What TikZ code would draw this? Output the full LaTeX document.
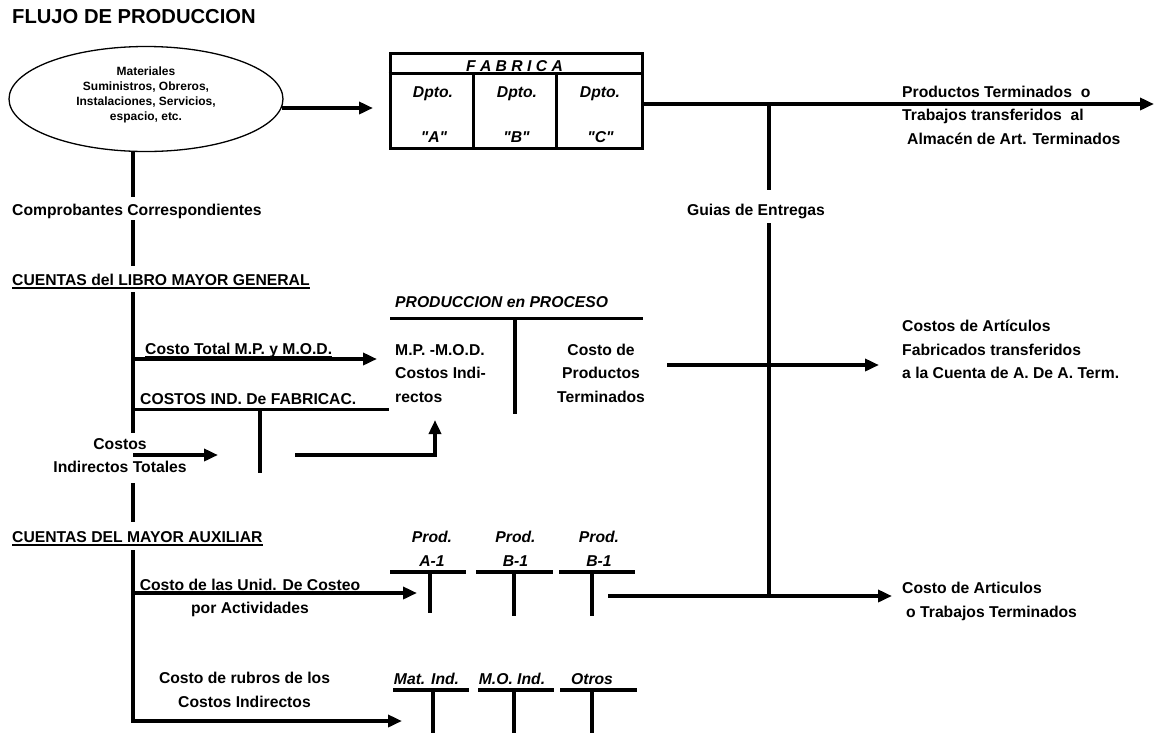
\documentclass[tikz,border=0pt]{standalone}
\usepackage{fontspec}
\setmainfont{Liberation Sans}[Ligatures=TeXOff]
\usetikzlibrary{shapes.geometric,arrows.meta,calc}
% fixed first-line height so that north anchors of text blocks are predictable
\newcommand\capstrut{\rule{0pt}{12pt}}
\begin{document}
\begin{tikzpicture}[x=1pt,y=-1pt,
  txt/.style={inner sep=0pt, font=\fontsize{15.7}{23.5}\selectfont\bfseries},
  itx/.style={inner sep=0pt, font=\fontsize{15.7}{23.5}\selectfont\bfseries\itshape},
  heavy/.style={line width=3.5pt},
  arr/.style={heavy, -{Triangle[length=14pt,width=12pt]}},
  uline/.style={line width=1.4pt},
]
\useasboundingbox (0,0) rectangle (1154,732);

% ---------- title ----------
\node[inner sep=0pt, font=\fontsize{20.2}{24}\selectfont\bfseries, anchor=base west]
  (titulo) at (12,23.5) {FLUJO DE PRODUCCION};

% ---------- resources ----------
\node[ellipse, draw, line width=1.3pt, minimum width=274pt, minimum height=105pt,
      inner sep=0pt, align=center, font=\fontsize{12}{15}\selectfont\bfseries]
  (recursos) at (146,99)
  {Materiales\\Suministros, Obreros,\\Instalaciones, Servicios,\\espacio, etc.\rule[-10pt]{0pt}{10pt}};

% ---------- factory ----------
\node[draw, line width=3pt, minimum width=252pt, minimum height=95pt, inner sep=0pt]
  (fabrica) at (516,100.5) {};
\draw[line width=3pt] ($(fabrica.north west)+(0,22)$) -- ($(fabrica.north east)+(0,22)$);
\draw[line width=3pt] ($(fabrica.north west)+(85,22)$) -- ($(fabrica.south west)+(85,0)$);
\draw[line width=3pt] ($(fabrica.north west)+(168,22)$) -- ($(fabrica.south west)+(168,0)$);
\node[itx, anchor=base] (fabtit) at (514.5,71) {F A B R I C A};
\node[itx, anchor=base] (dptoA) at (433,97) {Dpto.};
\node[itx, anchor=base] (dptoB) at (517,97) {Dpto.};
\node[itx, anchor=base] (dptoC) at (600,97) {Dpto.};
\node[itx, anchor=base] (letA) at (434,142) {"A"};
\node[itx, anchor=base] (letB) at (516.5,142) {"B"};
\node[itx, anchor=base] (letC) at (600.5,142) {"C"};

\coordinate (fabin) at (373,108);
\draw[arr] ($(recursos.east)+(-2,9)$) -- (fabin);

% ---------- finished products ----------
\coordinate (salida) at (1154,104);
\draw[arr] ($(fabrica.east)+(0,3.5)$) -- (salida);
\node[txt, anchor=north west, align=left] (almacen) at (902,85)
  {\capstrut Productos Terminados\ \ o\\Trabajos transferidos\ \ al\\\hspace*{5pt}Almacén de Art. Terminados};

% delivery notes line
\node[txt, anchor=base] (guias) at (756,215) {Guias de Entregas};
\coordinate (g0) at (769,104);
\coordinate (g1) at (769,190);
\coordinate (g2) at (769,223);
\coordinate (g3) at (769,596);
\draw[heavy] (g0) -- (g1);
\draw[heavy] (g2) -- (g3);

% ---------- left spine with its labels ----------
\node[txt, anchor=base west] (comprob) at (12,215) {Comprobantes Correspondientes};
\node[txt, anchor=base west] (libro) at (12,285.5) {CUENTAS del LIBRO MAYOR GENERAL};
\draw[uline] ($(libro.base west)+(0,2.5)$) -- ($(libro.base east)+(0,2.5)$);
\node[txt, anchor=base west] (auxiliar) at (12,542.5) {CUENTAS DEL MAYOR AUXILIAR};
\draw[uline] ($(auxiliar.base west)+(0,2.5)$) -- ($(auxiliar.base east)+(0,2.5)$);
\node[txt, anchor=north, align=center] (cind) at (120,437) {\capstrut Costos\\Indirectos Totales};

\coordinate (s0) at (133,151.5);
\coordinate (s1) at (133,197);
\coordinate (s2) at (133,220);
\coordinate (s3) at (133,266);
\coordinate (s4) at (133,292);
\coordinate (s5) at (133,433);
\coordinate (s6) at (133,483);
\coordinate (s7) at (133,522);
\coordinate (s8) at (133,550);
\coordinate (s9) at (133,721);
\draw[heavy] (s0) -- (s1) (s2) -- (s3) (s4) -- (s5) (s6) -- (s7);

% ---------- general ledger ----------
\node[txt, anchor=base west] (mpmod) at (145,354.5) {Costo Total M.P. y M.O.D.};
\draw[uline] ($(mpmod.base west)+(0,2)$) -- ($(mpmod.base east)+(0,2)$);
\coordinate (b1) at (133,359);
\coordinate (mpin) at (377,359);
\draw[arr] (b1) -- (mpin);

\node[txt, anchor=base west] (cif) at (140,404.5) {COSTOS IND. De FABRICAC.};
\coordinate (b2) at (133,409.5);
\coordinate (cifend) at (389,409.5);
\coordinate (cifstem) at (260,409.5);
\draw[heavy] (b2) -- (cifend);
\draw[heavy] (cifstem) -- ++(0,63);

\coordinate (b3) at (133,455);
\coordinate (cifin) at (218,455);
\draw[arr] (b3) -- (cifin);
\coordinate (cifout) at (295,455);
\coordinate (ppin) at (435,420);
\draw[arr] (cifout) -| (ppin);

% work in process account
\node[itx, anchor=base west] (pptit) at (395,307.5) {PRODUCCION en PROCESO};
\coordinate (ppl) at (390,318.5);
\coordinate (ppr) at (643,318.5);
\coordinate (ppm) at (515,318.5);
\draw[heavy] (ppl) -- (ppr);
\draw[heavy] (ppm) -- ++(0,95);
\node[txt, anchor=north west, align=left] (ppdebe) at (395,343)
  {\capstrut M.P. -M.O.D.\\Costos Indi-\\rectos};
\node[txt, anchor=north, align=center] (pphaber) at (601,343)
  {\capstrut Costo de\\Productos\\Terminados};

\coordinate (ppout) at (667,365);
\coordinate (ppto) at (879,365);
\draw[arr] (ppout) -- (ppto);
\node[txt, anchor=north west, align=left] (artfab) at (902,319.7)
  {\capstrut Costos de Artículos\\Fabricados transferidos\\a la Cuenta de A. De A. Term.};

% ---------- subsidiary ledger ----------
\node[txt, anchor=north, align=center] (unid) at (250,578)
  {\capstrut Costo de las Unid. De Costeo\\por Actividades};
\coordinate (b4) at (133,593);
\coordinate (unidin) at (417,593);
\draw[arr] (b4) -- (unidin);

\node[itx, anchor=north, align=center] (pa1) at (432,530.7) {\capstrut Prod.\\A-1};
\node[itx, anchor=north, align=center] (pb1) at (515.5,530.7) {\capstrut Prod.\\B-1};
\node[itx, anchor=north, align=center] (pb2) at (599,530.7) {\capstrut Prod.\\B-1};
\draw[heavy] (390,572) -- (466,572) (430,572) -- (430,613);
\draw[heavy] (476,572) -- (553,572) (514,572) -- (514,616);
\draw[heavy] (559,572) -- (635,572) (592,572) -- (592,616);

\coordinate (prodout) at (608,596);
\coordinate (prodto) at (892,596);
\draw[arr] (prodout) -- (prodto);
\node[txt, anchor=north west, align=left, font=\fontsize{15.7}{24}\selectfont\bfseries] (artterm) at (902,581)
  {\capstrut Costo de Articulos\\\hspace*{4pt}o Trabajos Terminados};

\node[txt, anchor=north, align=center, font=\fontsize{15.7}{24}\selectfont\bfseries] (rubros) at (244.5,671.3)
  {\capstrut Costo de rubros de los\\Costos Indirectos};
\coordinate (rubin) at (402,721);
\draw[arr] (s8) -- (s9) -- (rubin);

\node[itx, anchor=base] (matind) at (426.5,684) {Mat. Ind.};
\node[itx, anchor=base] (moind) at (512,684) {M.O. Ind.};
\node[itx, anchor=base] (otros) at (592,684) {Otros};
\draw[heavy] (393,690) -- (469,690) (433,690) -- (433,735);
\draw[heavy] (478,690) -- (554,690) (514,690) -- (514,735);
\draw[heavy] (560,690) -- (637,690) (592,690) -- (592,735);
\end{tikzpicture}
\end{document}
